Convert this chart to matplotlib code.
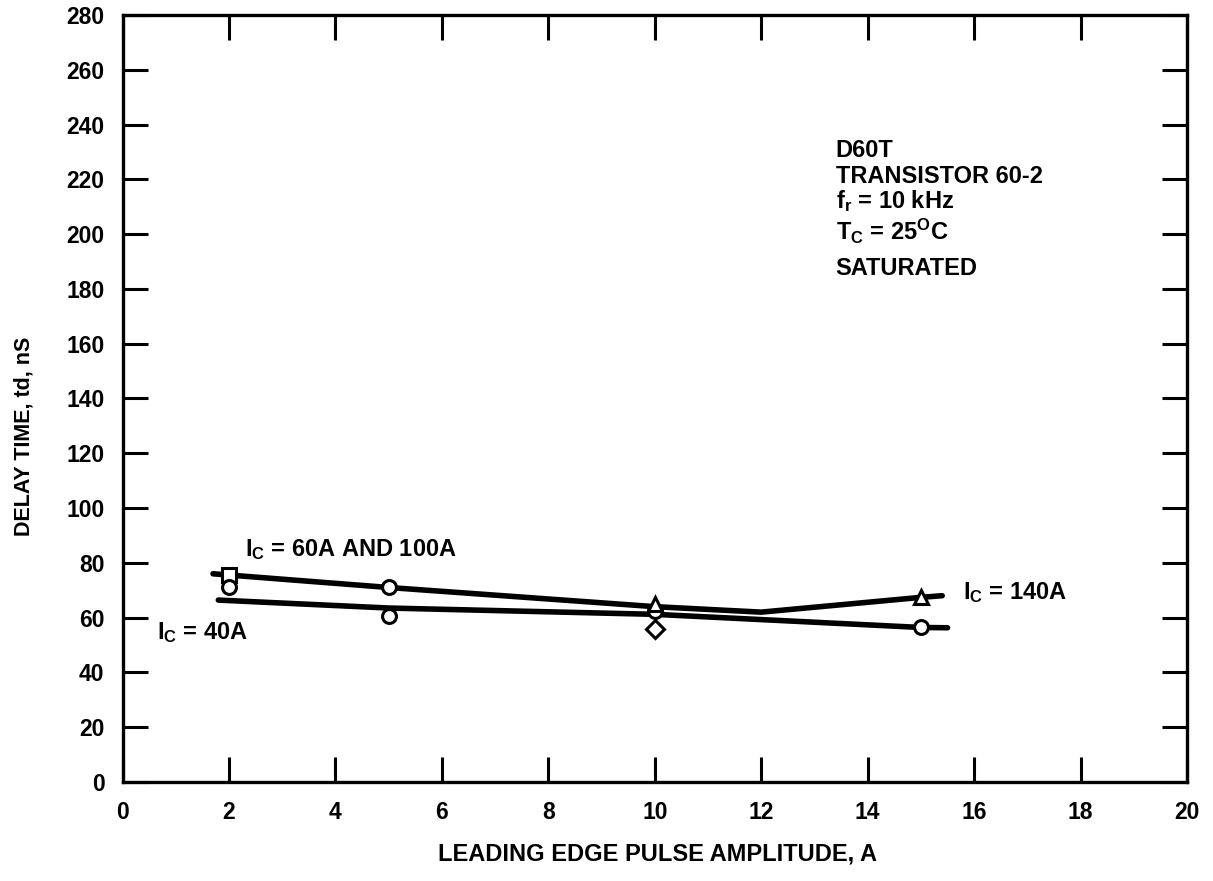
import matplotlib
matplotlib.use("Agg")
import matplotlib.pyplot as plt

plt.rcParams['font.family'] = ['Liberation Sans', 'DejaVu Sans']
plt.rcParams['font.weight'] = 'bold'
plt.rcParams['mathtext.fontset'] = 'custom'
plt.rcParams['mathtext.rm'] = 'Liberation Sans:bold'
plt.rcParams['mathtext.it'] = 'Liberation Sans:bold'
plt.rcParams['mathtext.bf'] = 'Liberation Sans:bold'

# curve ending at the triangle (upper at left)
upper_x = [1.7, 5, 10, 12, 15, 15.4]
upper_y = [76, 71, 64, 62, 67.4, 68]
# curve ending at the circle (lower at left)
lower_x = [1.8, 5, 10, 15, 15.5]
lower_y = [66.4, 63.5, 61.2, 56.4, 56.3]

# measured points
sq_x, sq_y = [2], [75.5]
circ_x = [2, 5, 5, 10, 15]
circ_y = [71, 71, 60.5, 62.3, 56.4]
tri_x, tri_y = [10, 15], [65, 67.4]
dia_x, dia_y = [10], [55.7]

x_ticks = list(range(0, 21, 2))
y_ticks = list(range(0, 281, 20))

info_lines = ["D60T", "TRANSISTOR 60-2", r"f$_\mathrm{r}$ = 10 kHz",
              r"T$_\mathrm{C}$ = 25$^\mathrm{O}$C", "SATURATED"]

fig = plt.figure(figsize=(12.13, 8.81), dpi=100)
ax = fig.add_axes([0.101, 0.1124, 0.8776, 0.8706])

ax.plot(upper_x, upper_y, color='black', lw=4, solid_capstyle='round', zorder=2)
ax.plot(lower_x, lower_y, color='black', lw=4, solid_capstyle='round', zorder=2)

mk = dict(linestyle='none', mfc='white', mec='black', mew=2.2, zorder=3)
ax.plot(sq_x, sq_y, marker='s', ms=10, **mk)
ax.plot(circ_x, circ_y, marker='o', ms=10, **mk)
ax.plot(tri_x, tri_y, marker='^', ms=10, **mk)
ax.plot(dia_x, dia_y, marker='D', ms=9, **mk)

ax.set_xlim(0, 20)
ax.set_ylim(0, 280)
ax.set_xticks(x_ticks)
ax.set_yticks(y_ticks)
ax.tick_params(direction='in', length=18, width=2.2, top=True, right=True,
               labelsize=16.5)
ax.tick_params(axis='x', pad=14)
ax.tick_params(axis='y', pad=13)
for lab in ax.get_xticklabels() + ax.get_yticklabels():
    lab.set_fontweight('bold')
for sp in ax.spines.values():
    sp.set_linewidth(2.4)

ax.set_ylabel("DELAY TIME, td, nS", fontsize=15.5, fontweight='bold')
ax.yaxis.set_label_coords(-0.083, 0.45)
ax.set_xlabel("LEADING EDGE PULSE AMPLITUDE, A", fontsize=17, fontweight='bold')
ax.xaxis.set_label_coords(0.503, -0.079)

ax.text(2.3, 82.4, r"I$_\mathrm{C}$ = 60A AND 100A", fontsize=17, fontweight='bold', va='baseline')
ax.text(0.65, 52, r"I$_\mathrm{C}$ = 40A", fontsize=17, fontweight='bold', va='baseline')
ax.text(15.8, 66.7, r"I$_\mathrm{C}$ = 140A", fontsize=17, fontweight='bold', va='baseline')

info_y = [228, 218.6, 209.6, 198, 185]
for line, yy in zip(info_lines, info_y):
    ax.text(13.4, yy, line, fontsize=17, fontweight='bold', va='baseline')

fig.savefig("out.png", dpi=100)
